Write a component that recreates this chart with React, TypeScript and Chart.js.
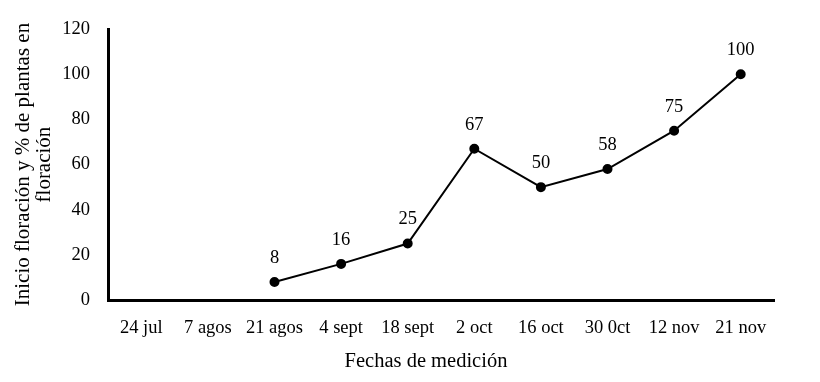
import React, { useEffect, useRef } from "react";
import { Chart, registerables } from "chart.js";

Chart.register(...registerables);

const categories = ["24 jul", "7 agos", "21 agos", "4 sept", "18 sept", "2 oct", "16 oct", "30 0ct", "12 nov", "21 nov"];
const values: (number | null)[] = [null, null, 8, 16, 25, 67, 50, 58, 75, 100];
const yTitle = ["Inicio floración y % de plantas en", "floración"];
const xTitle = "Fechas de medición";

const FONT = "'Liberation Serif', 'Times New Roman', serif";

const dataLabels = {
  id: "dataLabels",
  afterDatasetsDraw(chart: any) {
    const ctx = chart.ctx;
    const meta = chart.getDatasetMeta(0);
    ctx.save();
    ctx.font = `18.5px ${FONT}`;
    ctx.fillStyle = "#000";
    ctx.textAlign = "center";
    ctx.textBaseline = "middle";
    meta.data.forEach((pt: any, i: number) => {
      const v = values[i];
      if (v === null || v === undefined) return;
      ctx.fillText(String(v), pt.x, pt.y - 24);
    });
    // x axis title, slightly left of the plot centre as in the reference
    const ca = chart.chartArea;
    ctx.font = `20.5px ${FONT}`;
    ctx.fillText(xTitle, (ca.left + ca.right) / 2 - 15, 362);
    ctx.restore();
  },
};

export default function App() {
  const ref = useRef<HTMLCanvasElement | null>(null);
  useEffect(() => {
    document.body.style.margin = "0";
    const chart = new Chart(ref.current!, {
      type: "line",
      data: {
        labels: categories,
        datasets: [
          {
            data: values,
            borderColor: "#000",
            backgroundColor: "#000",
            borderWidth: 2,
            pointRadius: 4,
            pointBackgroundColor: "#000",
            pointBorderColor: "#000",
            tension: 0,
          },
        ],
      },
      options: {
        responsive: false,
        animation: false,
        layout: { padding: { left: 8, top: 26, right: 46, bottom: 0 } },
        plugins: { legend: { display: false }, tooltip: { enabled: false } },
        scales: {
          x: {
            offset: true,
            grid: { display: false, drawTicks: false, offset: true },
            border: { color: "#000", width: 3 },
            ticks: { color: "#000", font: { family: FONT, size: 18.5 }, padding: 17, maxRotation: 0, autoSkip: false },
            afterFit: (s: any) => { s.height = 82; },
          },
          y: {
            min: 0,
            max: 120,
            grid: { display: false, drawTicks: false },
            border: { color: "#000", width: 3 },
            ticks: { stepSize: 20, color: "#000", font: { family: FONT, size: 18.5 }, padding: 18 },
            title: { display: true, text: yTitle, color: "#000", font: { family: FONT, size: 21, lineHeight: 1.0 }, padding: { top: 5, bottom: 0 } },
            afterFit: (s: any) => { s.width = 100; },
          },
        },
      },
      plugins: [dataLabels],
    });
    return () => chart.destroy();
  }, []);
  return <canvas ref={ref} width={820} height={382} style={{ display: "block" }} />;
}
